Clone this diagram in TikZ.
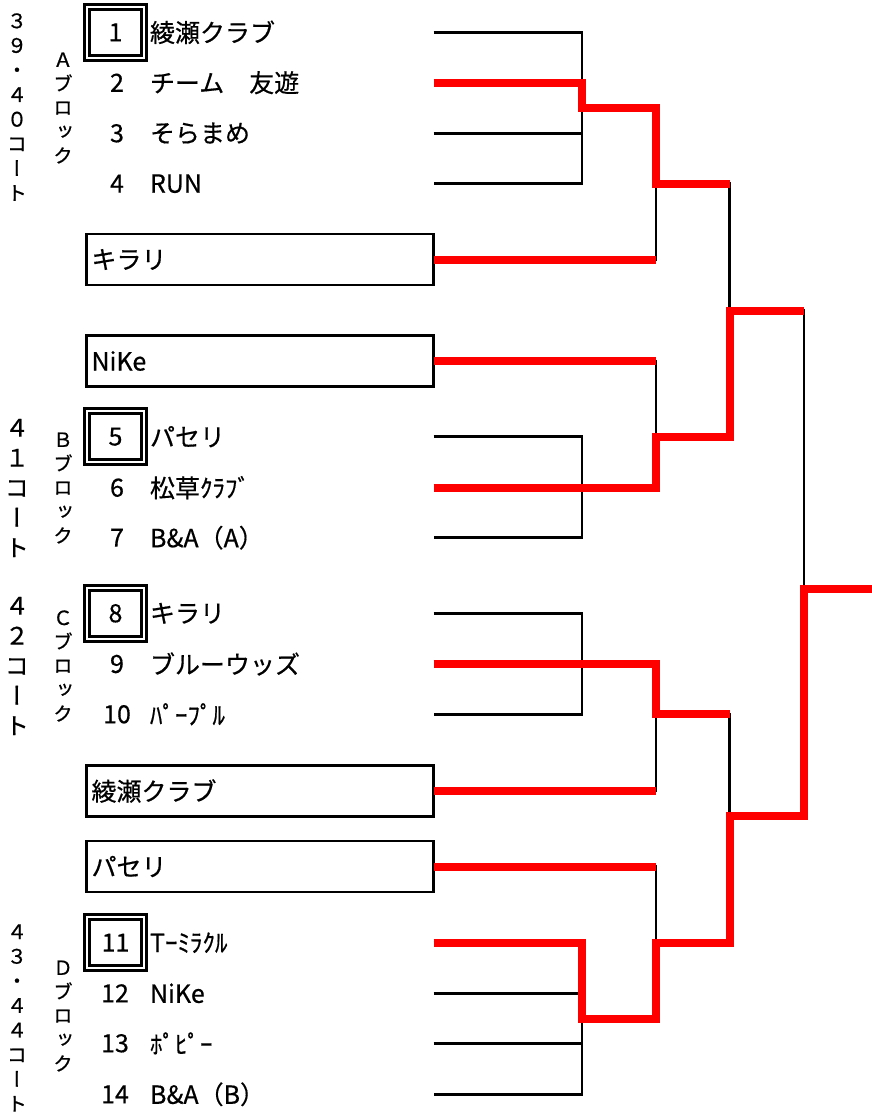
\documentclass[tikz,border=0pt]{standalone}
\usepackage{fontspec}
\setmainfont{Noto Sans CJK JP}[FakeBold=0.5]
\newfontfamily\tatefont[RawFeature=+vert,FakeBold=0.8]{Noto Sans CJK JP}
\newcommand{\teamfont}{\fontsize{25}{25}\selectfont}
\tikzset{
  every node/.style={inner sep=0pt,outer sep=0pt},
  team/.style={anchor=west,font=\teamfont},
  num/.style={font=\teamfont},
  seed/.style={draw,double,line width=2.8pt,double distance=2pt,minimum width=57pt,minimum height=51pt,font=\teamfont},
  entry/.style={draw,line width=2.8pt,anchor=east,minimum height=51pt,text width=337pt,inner xsep=5pt,align=left,font=\teamfont},
  court/.style={align=center,font=\tatefont\fontsize{20}{24.6}\selectfont},
  bigcourt/.style={align=center,font=\tatefont\fontsize{24}{30}\selectfont},
  blk/.style={align=center,font=\tatefont\fontsize{19.5}{24}\selectfont},
  lose/.style={line width=2.8pt},
  win/.style={red,line width=8pt},
}

\begin{document}
\begin{tikzpicture}[x=1pt,y=-1pt]
\useasboundingbox (0,0) rectangle (872,1114);
% courts and blocks
\node[court](cA) at (17,107) {３\\９\\・\\４\\０\\コ\\ー\\ト};
\node[blk](bA) at (63,108) {Ａ\\ブ\\ロ\\ッ\\ク};
\node[bigcourt](cB) at (17,488) {４\\１\\コ\\ー\\ト};
\node[blk](bB) at (63,488) {Ｂ\\ブ\\ロ\\ッ\\ク};
\node[bigcourt](cC) at (17,666) {４\\２\\コ\\ー\\ト};
\node[blk](bC) at (63,666) {Ｃ\\ブ\\ロ\\ッ\\ク};
\node[court](cD) at (17,1018) {４\\３\\・\\４\\４\\コ\\ー\\ト};
\node[blk](bD) at (63,1016) {Ｄ\\ブ\\ロ\\ッ\\ク};
% A block
\node[seed](s1) at (115.5,32.3) {1};
\node[team](t1) at (150,32.3) {綾瀬クラブ};
\node[num](n2) at (117,82.7) {2};
\node[team](t2) at (150,82.7) {チーム　友遊};
\node[num](n3) at (117,133.3) {3};
\node[team](t3) at (150,133.3) {そらまめ};
\node[num](n4) at (117,183.7) {4};
\node[team](t4) at (150,183.7) {RUN};
\node[entry](kA) at (433.5,259.5) {キラリ};
% B block
\node[entry](kB) at (433.5,361) {NiKe};
\node[seed](s5) at (115.5,436.7) {5};
\node[team](t5) at (150,436.7) {パセリ};
\node[num](n6) at (117,487.7) {6};
\node[team](t6) at (150,487.7) {松草ｸﾗﾌﾞ};
\node[num](n7) at (117,537.7) {7};
\node[team](t7) at (150,537.7) {B\&A（A）};
% C block
\node[seed](s8) at (115.5,613.3) {8};
\node[team](t8) at (150,613.3) {キラリ};
\node[num](n9) at (117,664) {9};
\node[team](t9) at (150,664) {ブルーウッズ};
\node[num](n10) at (117,714.3) {10};
\node[team](t10) at (150,714.3) {ﾊﾟｰﾌﾟﾙ};
\node[entry](kC) at (433.5,791) {綾瀬クラブ};
% D block
\node[entry](kD) at (433.5,866.5) {パセリ};
\node[seed](s11) at (115.5,942.7) {11};
\node[team](t11) at (150,942.7) {Tｰﾐﾗｸﾙ};
\node[num](n12) at (115,993.3) {12};
\node[team](t12) at (150,993.3) {NiKe};
\node[num](n13) at (115,1043.3) {13};
\node[team](t13) at (150,1043.3) {ﾎﾟﾋﾟｰ};
\node[num](n14) at (115,1094.3) {14};
\node[team](t14) at (150,1094.3) {B\&A（B）};

% line starts and junctions
\coordinate(l1) at (433.5,32.3);
\coordinate(l2) at (433.5,82.7);
\coordinate(l3) at (433.5,133.3);
\coordinate(l4) at (433.5,183.7);
\coordinate(l5) at (433.5,436.7);
\coordinate(l6) at (433.5,487.7);
\coordinate(l7) at (433.5,537.7);
\coordinate(l8) at (433.5,613.3);
\coordinate(l9) at (433.5,664);
\coordinate(l10) at (433.5,714.3);
\coordinate(l11) at (433.5,942.7);
\coordinate(l12) at (433.5,993.3);
\coordinate(l13) at (433.5,1043.3);
\coordinate(l14) at (433.5,1094.3);
\coordinate(qA) at (582,107.7);
\coordinate(qB) at (582,487.7);
\coordinate(qC) at (582,664);
\coordinate(qD) at (582,1018.7);
\coordinate(mA) at (656,183.7);
\coordinate(mB) at (656,436.7);
\coordinate(mC) at (656,714.3);
\coordinate(mD) at (656,942.7);
\coordinate(sA) at (729.5,310.7);
\coordinate(sB) at (729.5,815.7);
\coordinate(fin) at (804,588.7);
\coordinate(champ) at (872,588.7);

% black lines
\draw[lose] (l1) -| (qA) |- (l4);
\draw[lose] (l3) -- (l3-|qA);
\draw[lose] (l5) -| (qB) |- (l7);
\draw[lose] (l8) -| (qC) |- (l10);
\draw[lose] (l11) -| (qD) |- (l14);
\draw[lose] (l12) -- (l12-|qD);
\draw[lose] (l13) -- (l13-|qD);
\draw[lose] (kA.east) -| (mA);
\draw[lose] (kB.east) -| (mB);
\draw[lose] (kC.east) -| (mC);
\draw[lose] (kD.east) -| (mD);
\draw[lose] (mA) -| (sA);
\draw[lose] (mC) -| (sB);
\draw[lose] (sA) -| (fin);
% red lines
\draw[win] (l2) -| (qA) -| (mA) -- (mA-|sA);
\draw[win] (kA.east) -- (kA.east-|mA);
\draw[win] (kB.east) -- (kB.east-|mB);
\draw[win] (l6) -| (mB) -| (sA) -- (sA-|fin);
\draw[win] (l9) -| (mC) -- (mC-|sB);
\draw[win] (kC.east) -- (kC.east-|mC);
\draw[win] (kD.east) -- (kD.east-|mD);
\draw[win] (l11) -| (qD) -| (mD) -| (sB) -| (fin) -- (champ);
\end{tikzpicture}
\end{document}
